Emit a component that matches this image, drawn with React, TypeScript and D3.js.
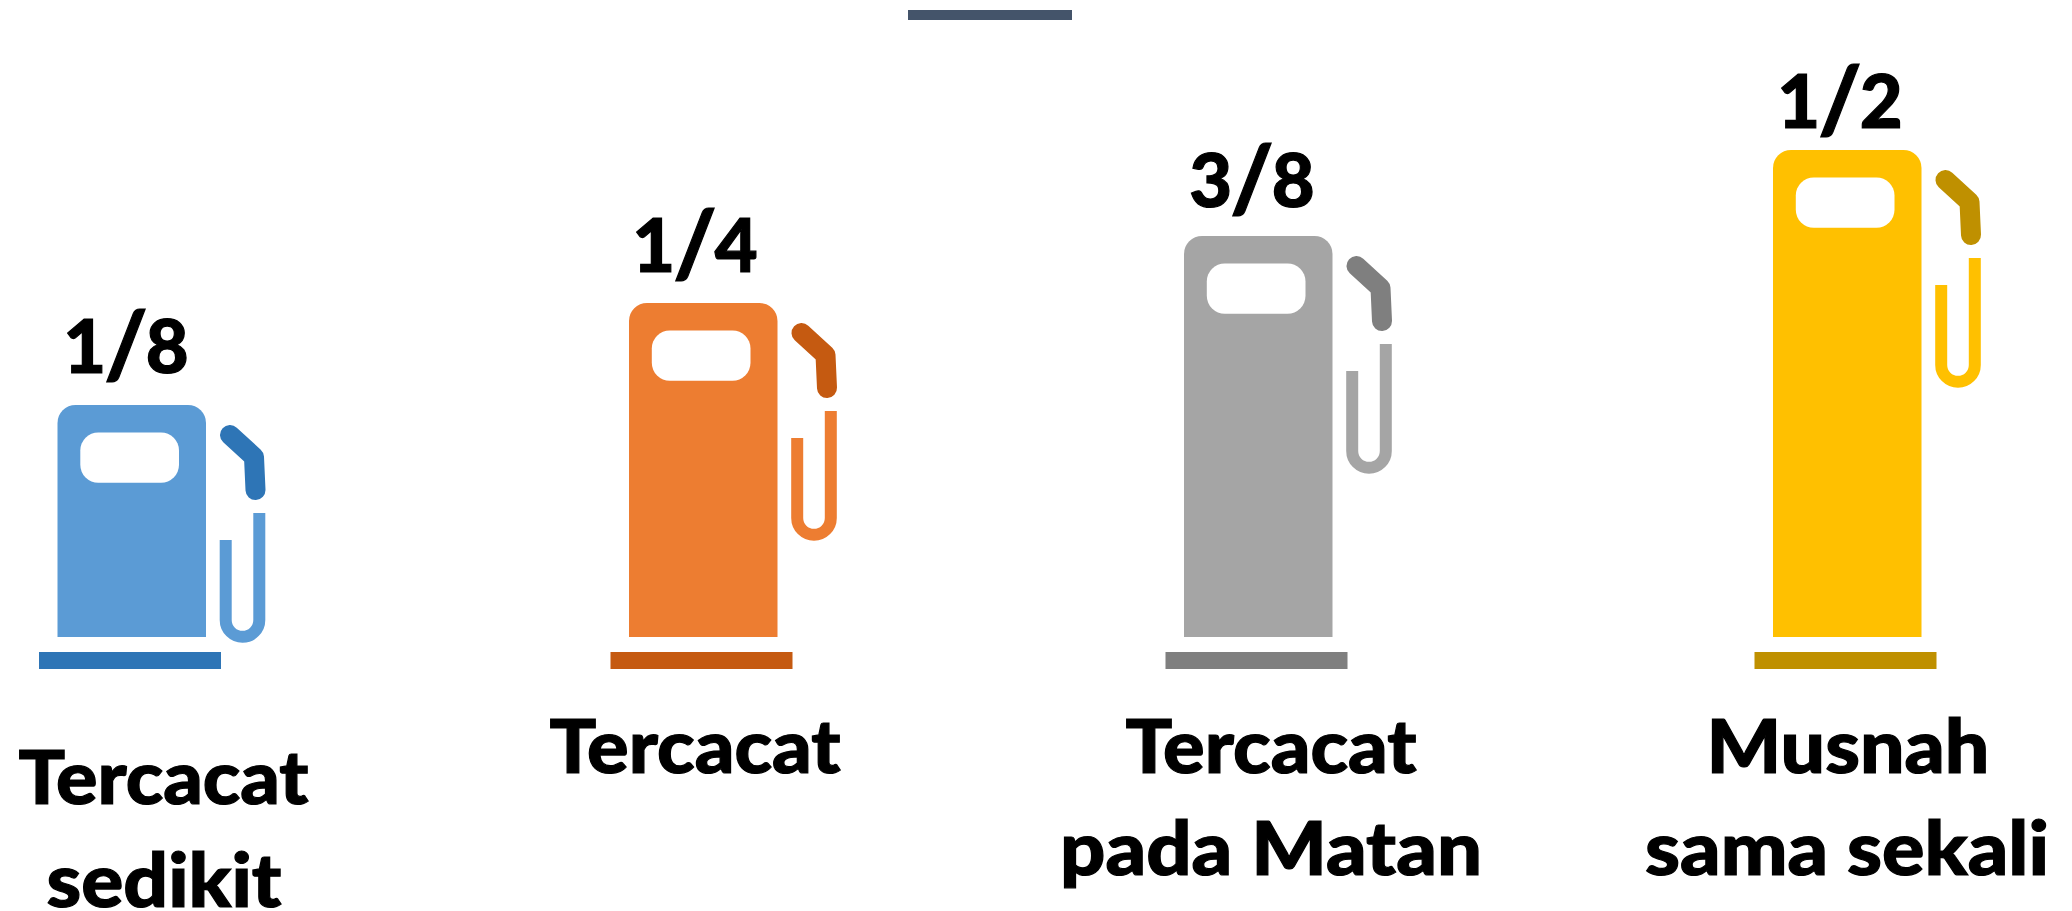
import React, { useEffect, useRef } from "react";
import * as d3 from "d3";

const fractions = ["1/8", "1/4", "3/8", "1/2"];
const levels = [232, 334, 401, 487];
const labels = [["Tercacat", "sedikit"], ["Tercacat"], ["Tercacat", "pada Matan"], ["Musnah", "sama sekali"]];
const bodyColors = ["#5B9BD5", "#ED7D31", "#A5A5A5", "#FFC000"];
const darkColors = ["#2E75B6", "#C55A11", "#7F7F7F", "#BF9000"];
const bodyLefts = [57.5, 629, 1184, 1773];
const fractionCenters = [126, 695, 1252, 1840];
const fractionBaselines = [373, 272, 207, 128];
const labelCenters = [[163.5, 164], [695], [1271, 1271], [1848, 1847]];
const labelWidths = [[290, 235], [291], [291, 422], [283, 404]];
const labelBaselines = [[804, 907], [773], [773, 875], [773, 875]];

const W = 2072, H = 911, BOTTOM = 637;

export default function App() {
  const ref = useRef<SVGSVGElement>(null);
  useEffect(() => {
    const svg = d3.select(ref.current!);
    svg.selectAll("*").remove();
    const y = d3.scaleLinear().domain([0, 637]).range([BOTTOM, 0]);
    const line = d3.line<[number, number]>();

    svg.append("rect").attr("x", 908).attr("y", 10).attr("width", 164).attr("height", 10).attr("fill", "#44546A");

    fractions.forEach((f, i) => {
      const L = bodyLefts[i];
      const T = y(levels[i]);
      const g = svg.append("g");
      const w = 148.5, r = 18;
      const body = d3.path();
      body.moveTo(L, BOTTOM);
      body.lineTo(L, T + r);
      body.arcTo(L, T, L + r, T, r);
      body.lineTo(L + w - r, T);
      body.arcTo(L + w, T, L + w, T + r, r);
      body.lineTo(L + w, BOTTOM);
      body.closePath();
      g.append("path").attr("d", body.toString()).attr("fill", bodyColors[i]);
      g.append("rect").attr("x", L + 22.8).attr("y", T + 27.4).attr("width", 98.7).attr("height", 50.4).attr("rx", 18).attr("fill", "#fff");
      g.append("rect").attr("x", L - 18.5).attr("y", BOTTOM + 15).attr("width", 182).attr("height", 17).attr("fill", darkColors[i]);
      // nozzle
      g.append("path")
        .attr("d", line([[L + 172.5, T + 30], [L + 196.5, T + 52], [L + 198, T + 85]]))
        .attr("fill", "none").attr("stroke", darkColors[i]).attr("stroke-width", 20)
        .attr("stroke-linecap", "round").attr("stroke-linejoin", "round");
      // hose
      const hose = d3.path();
      hose.moveTo(L + 168.2, T + 135);
      hose.lineTo(L + 168.2, T + 215);
      hose.arc(L + 185, T + 215, 16.8, Math.PI, 0, true);
      hose.lineTo(L + 201.8, T + 108);
      g.append("path").attr("d", hose.toString()).attr("fill", "none").attr("stroke", bodyColors[i]).attr("stroke-width", 12);

      const frac = svg.append("text").attr("x", fractionCenters[i]).attr("y", fractionBaselines[i])
        .attr("text-anchor", "middle").attr("font-family", "Lato").attr("font-weight", 900)
        .attr("font-size", 74).attr("fill", "#000").attr("stroke", "#000").attr("stroke-width", 1.2);
      const [num, den] = f.split("/");
      frac.append("tspan").text(num);
      frac.append("tspan").attr("font-size", 92).attr("dx", -2).attr("dy", 4).text("/");
      frac.append("tspan").attr("dx", -2).attr("dy", -4).text(den);

      labels[i].forEach((t, j) => {
        svg.append("text").attr("x", labelCenters[i][j]).attr("y", labelBaselines[i][j])
          .attr("text-anchor", "middle").attr("font-family", "Lato").attr("font-weight", 900)
          .attr("font-size", 75).attr("fill", "#000").attr("stroke", "#000").attr("stroke-width", 1.2)
          .attr("textLength", labelWidths[i][j]).attr("lengthAdjust", "spacingAndGlyphs").text(t);
      });
    });
  }, []);
  return <svg ref={ref} width={W} height={H} style={{ position: "absolute", left: 0, top: 0, background: "#fff" }} />;
}
